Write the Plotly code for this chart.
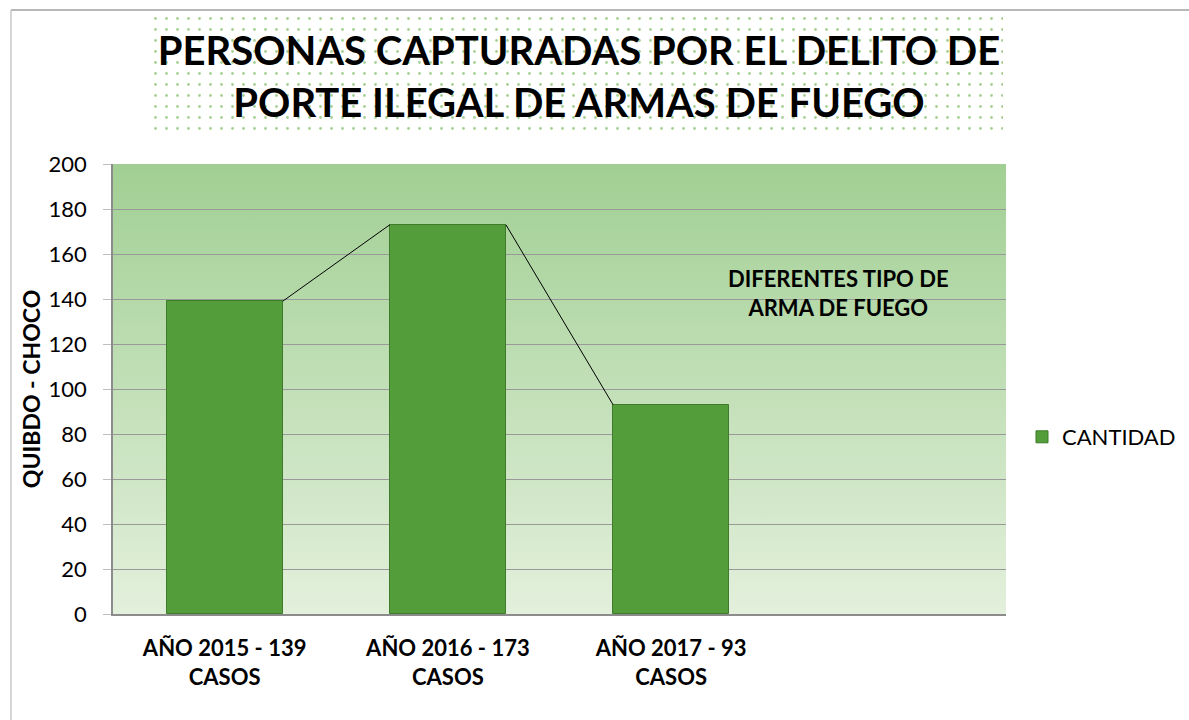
import base64
import plotly.graph_objects as go

# ---- data ----
categories = ["AÑO 2015 - 139<br>CASOS", "AÑO 2016 - 173<br>CASOS", "AÑO 2017 - 93<br>CASOS", ""]
cantidad = [139, 173, 93]
series_name = "CANTIDAD"
y_ticks = [0, 20, 40, 60, 80, 100, 120, 140, 160, 180, 200]
title_text = "PERSONAS CAPTURADAS POR EL DELITO DE<br>PORTE ILEGAL DE ARMAS DE FUEGO"
y_title = "QUIBDO - CHOCO"
note_text = "DIFERENTES TIPO DE<br>ARMA DE FUEGO"

FONT = "Lato, Carlito, Calibri, sans-serif"
W, H = 1189, 720
ML, MR, MT, MB = 113, 183, 10, 106
plot_h = H - MT - MB
main_top = 450 / plot_h
bar_width = 0.52

pos = list(range(len(categories)))
bar_x = pos[:len(cantidad)]

# series lines between bar tops
line_x, line_y = [], []
for i in range(len(cantidad) - 1):
    line_x += [bar_x[i] + bar_width / 2, bar_x[i + 1] - bar_width / 2, None]
    line_y += [cantidad[i], cantidad[i + 1], None]

fig = go.Figure()

# dotted title backdrop (decorative)
fig.add_trace(go.Bar(
    x=[0.5], y=[1], width=[1], xaxis="x2", yaxis="y2",
    marker=dict(color="white", line=dict(width=0),
                pattern=dict(shape=".", fgcolor="#4ea22a", bgcolor="white",
                             size=11, solidity=0.05)),
    showlegend=False, hoverinfo="skip",
))

fig.add_trace(go.Bar(
    x=bar_x, y=cantidad, width=bar_width, name=series_name,
    marker=dict(color="#539e3a", line=dict(color="#3e7b2a", width=1)),
))

fig.add_trace(go.Scatter(
    x=line_x, y=line_y, mode="lines", line=dict(color="black", width=1),
    showlegend=False, hoverinfo="skip",
))

svg = ('<svg xmlns="http://www.w3.org/2000/svg" width="10" height="100" viewBox="0 0 10 100" '
       'preserveAspectRatio="none"><defs><linearGradient id="g" x1="0" y1="0" x2="0" y2="1">'
       '<stop offset="0" stop-color="#a1cf93"/><stop offset="1" stop-color="#e3f0dc"/>'
       '</linearGradient></defs><rect width="10" height="100" fill="url(#g)"/></svg>')
src = "data:image/svg+xml;base64," + base64.b64encode(svg.encode()).decode()

fig.update_layout(
    width=W, height=H,
    margin=dict(l=ML, r=MR, t=MT, b=MB, autoexpand=False),
    paper_bgcolor="white", plot_bgcolor="rgba(0,0,0,0)",
    font=dict(family=FONT, color="black", size=20),
    title=dict(text=title_text, x=579 / W, xanchor="center", xref="container",
               y=1 - 65 / H, yanchor="middle", yref="container", automargin=False,
               font=dict(family=FONT, size=40, weight="bold", color="black")),
    showlegend=True,
    legend=dict(x=(1022 - ML) / 893, xanchor="left", y=(614 - 437) / plot_h, yanchor="middle",
                font=dict(size=22, family=FONT), bgcolor="rgba(0,0,0,0)"),
    bargap=0,
    xaxis=dict(domain=[0, 1], range=[-0.5, 3.5], tickmode="array", tickvals=pos,
               ticktext=categories, showgrid=False, zeroline=False, automargin=False,
               showline=True, linecolor="#8c8c8c", linewidth=1.5, ticks="",
               ticklabelstandoff=14,
               tickfont=dict(size=22, family=FONT, weight="bold")),
    yaxis=dict(domain=[0, main_top], range=[0, 200], tickmode="array", tickvals=y_ticks,
               showgrid=True, gridcolor="#999999", gridwidth=1, zeroline=False, automargin=False,
               showline=True, linecolor="#8c8c8c", linewidth=1.5,
               ticks="outside", ticklen=8, tickcolor="#bfbfbf", ticklabelstandoff=12,
               tickfont=dict(size=22, family=FONT),
               title=dict(text=y_title, standoff=2,
                          font=dict(size=23, family=FONT, weight="bold"))),
    xaxis2=dict(domain=[(150 - ML) / 893, (1003 - ML) / 893], range=[0, 1], visible=False,
                anchor="y2", fixedrange=True, automargin=False),
    yaxis2=dict(domain=[(614 - 134) / plot_h, (614 - 13) / plot_h], range=[0, 1], visible=False,
                anchor="x2", fixedrange=True, automargin=False),
    images=[dict(source=src, xref="paper", yref="paper", x=0, y=main_top, sizex=1, sizey=main_top,
                 xanchor="left", yanchor="top", sizing="stretch", layer="below")],
    shapes=[
        dict(type="line", xref="paper", yref="paper", x0=(11 - ML) / 893, x1=(1250 - ML) / 893,
             y0=1, y1=1, line=dict(color="#a0a0a0", width=1.5)),
        dict(type="line", xref="paper", yref="paper", x0=(11 - ML) / 893, x1=(11 - ML) / 893,
             y0=1, y1=(614 - 760) / plot_h, line=dict(color="#c8c8c8", width=1.5)),
    ],
    annotations=[dict(text=note_text, x=2.75, y=(614 - 293) / 2.25, xref="x", yref="y",
                      showarrow=False, xanchor="center", yanchor="middle",
                      font=dict(size=22, family=FONT, weight="bold"))],
)

post = ("document.body.style.margin='0';"
        "var d=document.getElementById('{plot_id}');"
        "d.style.position='absolute';d.style.left='0px';d.style.top='0px';")

fig.write_html("out.html", post_script=post, config={"displayModeBar": False})
